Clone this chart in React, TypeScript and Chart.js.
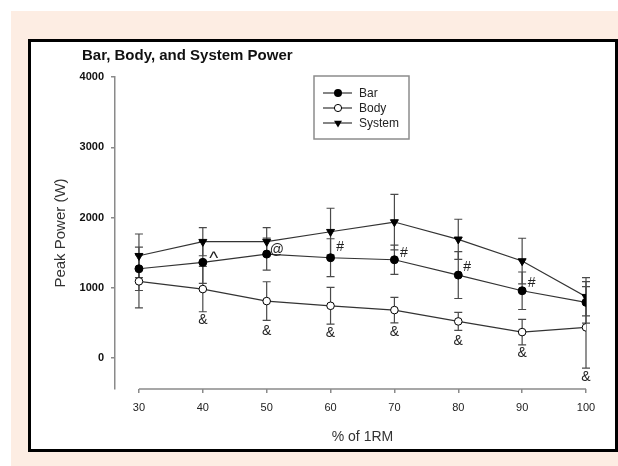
import React, { useEffect, useRef } from "react";
import { Chart, registerables } from "chart.js";

Chart.register(...registerables);

const percent1RM = [30, 40, 50, 60, 70, 80, 90, 100];
const barMean = [1271, 1362, 1480, 1428, 1399, 1181, 958, 793];
const barSD = [309, 300, 228, 270, 209, 333, 267, 295];
const bodyMean = [1092, 982, 811, 744, 683, 522, 370, 437];
const bodySD = [377, 323, 275, 262, 181, 128, 181, 580];
const systemMean = [1456, 1656, 1656, 1798, 1936, 1690, 1381, 873];
const systemSD = [310, 200, 200, 334, 395, 286, 324, 271];

const yTickValues = [0, 1000, 2000, 3000, 4000];
const xTickValues = [30, 40, 50, 60, 70, 80, 90, 100];

const annotationText = ["^", "@", "#", "#", "#", "#", "&", "&", "&", "&", "&", "&", "&"];
const annotationX = [41.7, 51.6, 61.5, 71.5, 81.4, 91.5, 40, 50, 60, 70, 80, 90, 100];
const annotationY = [1420, 1537, 1580, 1495, 1295, 1072, 541, 384, 356, 370, 242, 71, -266];

const seriesNames = ["Bar", "Body", "System"];
const FONT = "'Liberation Sans', Arial, Helvetica, sans-serif";
const AXIS_COLOR = "#8a8a8a";

function drawMarker(ctx: CanvasRenderingContext2D, kind: number, x: number, y: number) {
  ctx.save();
  ctx.lineWidth = 1;
  ctx.strokeStyle = "#000";
  if (kind === 0) {
    ctx.fillStyle = "#000";
    ctx.beginPath();
    ctx.arc(x, y, 4, 0, Math.PI * 2);
    ctx.fill();
  } else if (kind === 1) {
    ctx.fillStyle = "#fff";
    ctx.beginPath();
    ctx.arc(x, y, 3.6, 0, Math.PI * 2);
    ctx.fill();
    ctx.stroke();
  } else {
    ctx.fillStyle = "#000";
    const r = 4.6;
    ctx.beginPath();
    ctx.moveTo(x, y + r);
    ctx.lineTo(x - r * 0.866, y - r * 0.5);
    ctx.lineTo(x + r * 0.866, y - r * 0.5);
    ctx.closePath();
    ctx.fill();
  }
  ctx.restore();
}

const decorPlugin = {
  id: "decor",
  beforeDatasetsDraw(chart: any) {
    const { ctx, scales } = chart;
    const x = scales.x;
    const y = scales.y;
    const sds = [barSD, bodySD, systemSD];
    const means = [barMean, bodyMean, systemMean];
    ctx.save();
    ctx.strokeStyle = "#4a4a4a";
    ctx.lineWidth = 1.2;
    means.forEach((m, i) => {
      m.forEach((v, j) => {
        const px = x.getPixelForValue(percent1RM[j]);
        const top = y.getPixelForValue(v + sds[i][j]);
        const bot = y.getPixelForValue(v - sds[i][j]);
        ctx.beginPath();
        ctx.moveTo(px, top);
        ctx.lineTo(px, bot);
        ctx.moveTo(px - 4, top);
        ctx.lineTo(px + 4, top);
        ctx.moveTo(px - 4, bot);
        ctx.lineTo(px + 4, bot);
        ctx.stroke();
      });
    });
    ctx.restore();
  },
  afterDraw(chart: any) {
    const { ctx, scales, chartArea } = chart;
    const x = scales.x;
    const y = scales.y;
    ctx.save();
    ctx.strokeStyle = AXIS_COLOR;
    ctx.lineWidth = 1.5;
    ctx.beginPath();
    ctx.moveTo(x.getPixelForValue(xTickValues[0]), chartArea.bottom);
    ctx.lineTo(x.getPixelForValue(xTickValues[xTickValues.length - 1]), chartArea.bottom);
    ctx.stroke();

    ctx.fillStyle = "#111";
    ctx.font = `bold 15px ${FONT}`;
    ctx.textAlign = "left";
    ctx.textBaseline = "middle";
    ctx.fillText("Bar, Body, and System Power", 82, 56);

    ctx.font = `14px ${FONT}`;
    ctx.textAlign = "center";
    ctx.fillStyle = "#333";
    const xc = (x.getPixelForValue(xTickValues[0]) + x.getPixelForValue(xTickValues[xTickValues.length - 1])) / 2;
    ctx.fillText("% of 1RM", xc, 437);

    ctx.save();
    ctx.translate(61, (chartArea.top + chartArea.bottom) / 2);
    ctx.rotate(-Math.PI / 2);
    ctx.font = `15px ${FONT}`;
    ctx.fillText("Peak Power (W)", 0, 0);
    ctx.restore();

    ctx.fillStyle = "#222";
    annotationText.forEach((t, i) => {
      ctx.font = t === "^" ? `19px ${FONT}` : `14px ${FONT}`;
      ctx.fillText(t, x.getPixelForValue(annotationX[i]), y.getPixelForValue(annotationY[i]));
    });

    const lx = 314, ly = 76, lw = 95, lh = 63;
    ctx.strokeStyle = "#8c8c8c";
    ctx.lineWidth = 1.5;
    ctx.fillStyle = "#fff";
    ctx.fillRect(lx, ly, lw, lh);
    ctx.strokeRect(lx, ly, lw, lh);
    ctx.font = `12px ${FONT}`;
    ctx.textAlign = "left";
    seriesNames.forEach((name, i) => {
      const yy = 93 + i * 15;
      ctx.strokeStyle = "#333";
      ctx.lineWidth = 1.2;
      ctx.beginPath();
      ctx.moveTo(323, yy);
      ctx.lineTo(352, yy);
      ctx.stroke();
      drawMarker(ctx, i, 338, yy);
      ctx.fillStyle = "#222";
      ctx.fillText(name, 359, yy + 1);
    });
    ctx.restore();
  },
};

export default function App() {
  const canvasRef = useRef<HTMLCanvasElement | null>(null);

  useEffect(() => {
    document.body.style.margin = "0";
    const canvas = canvasRef.current;
    if (!canvas) return;
    const mk = (vals: number[]) => vals.map((v, i) => ({ x: percent1RM[i], y: v }));
    const chart = new Chart(canvas, {
      type: "line",
      data: {
        datasets: [
          {
            label: seriesNames[0],
            data: mk(barMean),
            borderColor: "#333",
            borderWidth: 1.2,
            pointStyle: "circle",
            pointRadius: 4,
            pointBackgroundColor: "#000",
            pointBorderColor: "#000",
            pointBorderWidth: 1,
          },
          {
            label: seriesNames[1],
            data: mk(bodyMean),
            borderColor: "#333",
            borderWidth: 1.2,
            pointStyle: "circle",
            pointRadius: 3.8,
            pointBackgroundColor: "#fff",
            pointBorderColor: "#000",
            pointBorderWidth: 1,
          },
          {
            label: seriesNames[2],
            data: mk(systemMean),
            borderColor: "#333",
            borderWidth: 1.2,
            pointStyle: "triangle",
            rotation: 180,
            pointRadius: 4.6,
            pointBackgroundColor: "#000",
            pointBorderColor: "#000",
            pointBorderWidth: 1,
          },
        ],
      },
      options: {
        responsive: false,
        animation: false,
        devicePixelRatio: 1,
        layout: { padding: { left: 0, top: 77, right: 32, bottom: 0 } },
        plugins: {
          legend: { display: false },
          title: { display: false },
          tooltip: { enabled: false },
        },
        scales: {
          x: {
            type: "linear",
            min: 26.25,
            max: 100,
            afterBuildTicks: (s: any) => {
              s.ticks = xTickValues.map((v) => ({ value: v }));
            },
            afterFit: (s: any) => {
              s.height = 77;
            },
            border: { display: false },
            grid: {
              display: true,
              drawOnChartArea: false,
              drawTicks: true,
              tickLength: 4,
              color: AXIS_COLOR,
              lineWidth: 1.5,
            },
            ticks: {
              padding: 8,
              color: "#222",
              font: { family: FONT, size: 11 },
              maxRotation: 0,
              autoSkip: false,
              callback: (v: any) => String(v),
            },
          },
          y: {
            type: "linear",
            min: -440,
            max: 4000,
            afterBuildTicks: (s: any) => {
              s.ticks = yTickValues.map((v) => ({ value: v }));
            },
            afterFit: (s: any) => {
              s.width = 115;
            },
            border: { display: true, color: AXIS_COLOR, width: 1.5 },
            grid: {
              display: true,
              drawOnChartArea: false,
              drawTicks: true,
              tickLength: 4,
              color: AXIS_COLOR,
              lineWidth: 1.5,
            },
            ticks: {
              padding: 7,
              color: "#111",
              font: { family: FONT, size: 11, weight: "bold" },
              autoSkip: false,
              callback: (v: any) => String(v),
            },
          },
        },
      },
      plugins: [decorPlugin],
    } as any);
    return () => chart.destroy();
  }, []);

  return (
    <div style={{ position: "relative", width: 618, height: 466, background: "#fff", overflow: "hidden" }}>
      <div style={{ position: "absolute", left: 11, top: 11, width: 607, height: 455, background: "#fdede3" }} />
      <div
        style={{
          position: "absolute",
          left: 28,
          top: 39,
          width: 590,
          height: 413,
          border: "3px solid #000",
          boxSizing: "border-box",
          background: "#fff",
        }}
      />
      <canvas ref={canvasRef} width={618} height={466} style={{ position: "absolute", left: 0, top: 0 }} />
    </div>
  );
}
